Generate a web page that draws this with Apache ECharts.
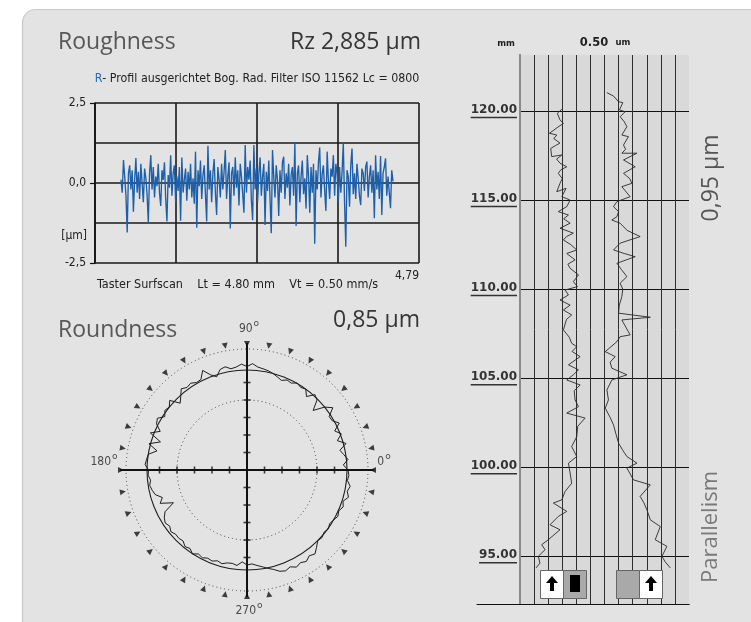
<!DOCTYPE html>
<html><head><meta charset="utf-8">
<script src="https://cdn.jsdelivr.net/npm/echarts@6/dist/echarts.min.js"></script>
<style>html,body{margin:0;padding:0;background:#fff}#c{width:751px;height:622px}</style>
</head><body><div id="c"></div>
<script>
// ---------- Roughness profile (µm), sampled evenly along the trace ----------
const roughValues = [
 0.1,-0.3,0.72,0.2,-0.4,-1.55,0.3,0.55,-0.2,0.4,
 -0.9,0.1,0.78,-0.3,0.35,-0.5,0.6,0.0,-0.6,0.45,
 0.15,-0.35,-1.24,0.3,0.87,-0.2,0.5,-0.45,0.2,-0.1,
 0.6,-0.3,-0.72,0.4,0.1,0.65,-0.5,-1.2,0.25,-0.15,
 0.87,-0.4,0.3,0.55,-0.6,0.2,-0.25,0.5,-1.18,0.8,
 -0.3,0.1,0.45,-0.55,0.35,-0.2,0.6,-0.45,0.15,-0.65,
 0.98,-1.4,0.4,-0.1,0.7,-0.5,0.25,0.55,-0.35,-1.2,
 1.16,-0.2,0.4,-0.6,0.3,0.75,-0.3,-1.0,0.5,0.1,
 -0.45,0.6,-0.2,0.35,1.03,-0.5,0.2,0.65,-1.42,0.3,
 0.5,-0.4,0.8,-0.15,0.4,-0.7,0.6,0.2,-0.35,-0.93,
 1.19,-0.3,0.5,0.1,0.7,-0.55,-1.16,1.19,-0.2,0.45,
 -0.6,0.3,0.8,-0.4,0.2,0.6,-1.31,0.35,-0.25,0.7,
 -0.5,-1.57,1.03,0.2,-0.45,0.55,0.1,-1.03,0.4,-0.3,
 0.65,0.82,-0.5,0.3,-0.15,0.6,-0.7,0.25,0.5,-0.4,
 1.26,-1.34,0.3,0.55,-0.6,0.2,0.7,-0.35,0.15,-0.8,
 0.87,0.2,-0.93,0.5,-0.3,0.6,-1.9,0.4,-0.2,0.65,
 1.11,-0.45,0.3,0.55,-0.25,-0.87,0.98,0.1,-0.5,0.45,
 0.2,0.87,-0.4,0.6,0.3,-0.58,0.5,-0.3,0.35,1.24,
 -0.6,-1.99,0.4,0.2,-0.74,0.55,1.08,-0.35,0.3,-0.5,
 0.6,0.15,-0.4,-0.69,0.45,0.3,-0.25,0.5,0.67,-0.45,
 0.2,0.55,-0.3,0.4,-1.1,0.87,-0.2,0.35,-0.5,0.84,
 -1.0,0.3,0.5,0.77,-0.4,0.2,-0.3,-0.79,0.4,0.05
];
const roughStartMm = 0.385;      // first sample position (mm)
const roughStepMm = 0.0184;      // sampling step (mm)
const roughLabelMap = {'2.5':'2,5','0':'0,0','-2.5':'-2,5'};
const roughEndLabel = '4,79';

// ---------- Roundness profile: [angle°, radius] ----------
const roundProfile = [
 [0,101],[3,96.5],[6,101.5],[9,98],[12,95],[15,102.5],[18,95],[21,101],[24,96],[27,103.5],
 [30,98.5],[33,98],[36,106],[39,100],[42,89],[45,99],[48,101.5],[51,94.5],[54,100],[57,98.5],
 [60,100.5],[63,97.5],[66,98.5],[69,96],[72,98],[75,100],[78,101.5],[81,102.5],[84,103.5],[87,106.5],
 [90,103.5],[93,106],[96,103.5],[99,102.5],[102,105.5],[105,104],[108,98],[111,102],[114,109],[117,101.5],
 [120,101],[123,103.5],[126,102],[129,104.5],[132,99],[135,94.5],[138,104],[141,100],[144,101.5],[147,98],
 [150,103.5],[153,101.5],[156,95],[159,103.5],[162,91],[165,101.5],[168,92],[171,100],[174,101],[177,102],
 [180,98.5],[183,99],[186,97],[189,98.5],[192,97],[195,95],[198,89],[201,93],[204,80.5],[207,92],
 [210,95.5],[213,97.5],[216,95.5],[219,98],[222,96],[225,96.5],[228,95.5],[231,98.5],[234,97],[237,100],
 [240,97],[243,98.5],[246,96.5],[249,97.5],[252,95.5],[255,97],[258,95],[261,94.5],[264,96],[267,92],
 [270,95],[273,94],[276,96],[279,98],[282,100.5],[285,103],[288,106.5],[291,108],[294,106],[297,109],
 [300,107],[303,109],[306,106],[309,108],[312,104],[315,100],[318,101],[321,99],[324,100.5],[327,98.5],
 [330,100],[333,102],[336,100.5],[339,103],[342,101],[345,105],[348,102.5],[351,104.5],[354,101],[357,102],
 [360,101]
];
const roundAxisMax = 127;         // radius at the end of the cross axes
const roundOuterCircle = 121;     // dotted tolerance circle
const roundFitCircle = 100;       // fitted (least squares) circle
const roundInnerCircle = 70;      // dotted inner circle
const roundTickRadii = [17.5,35,52.5,70,87.5];
const roundMarkerAngles = [0,10,20,30,40,50,60,70,80,90,100,110,120,130,140,150,160,170,
                           180,190,200,210,220,230,240,250,260,270,280,290,300,310,320,330,340,350];
const roundDegreeLabels = ['0','90','180','270'];
const roundDegreeAngles = [0,90,180,270];

// ---------- Parallelism profiles: [column, height mm] ----------
const parallelTicks = [95,100,105,110,115,120];
const leftProfile = [
 [2.97,120.1],[2.65,119.87],[2.84,119.5],[3.08,119.3],[2.7,119.1],[2.09,118.75],[2.61,118.65],[2.4,118.45],
 [2.84,118.2],[2.5,118.05],[2.18,117.9],[2.25,117.44],[2.97,117.53],[2.6,117.3],[2.84,117.07],[3.32,116.87],
 [2.9,116.7],[2.72,116.5],[3.0,116.2],[2.84,115.94],[2.61,115.47],[3.27,115.66],[2.97,115.19],[3.56,115.0],
 [3.32,114.63],[2.72,114.35],[3.44,114.16],[3.1,113.95],[3.56,113.7],[2.84,113.42],[3.79,113.14],[3.3,112.95],
 [3.08,112.76],[3.6,112.5],[4.03,112.2],[3.32,112.0],[3.91,111.64],[3.4,111.4],[3.56,111.17],[4.15,110.8],
 [3.79,110.42],[4.08,110.14],[3.2,109.95],[3.44,109.67],[2.84,109.39],[3.56,109.1],[3.08,108.83],[3.67,108.55],
 [3.3,108.3],[3.08,107.71],[3.5,107.3],[3.67,106.96],[4.03,106.77],[3.7,106.5],[4.27,106.21],[3.44,105.75],
 [4.15,105.47],[3.8,105.2],[3.32,104.9],[4.27,104.62],[3.85,104.3],[3.91,103.78],[4.15,103.4],[3.32,103.04],
 [4.62,102.76],[4.1,102.3],[4.03,101.72],[3.67,101.16],[4.03,100.6],[3.44,100.23],[3.56,99.67],[3.67,99.1],
 [3.2,98.64],[2.97,98.17],[2.37,97.99],[3.32,97.52],[2.72,97.24],[2.13,96.77],[2.84,96.49],[2.01,95.93],
 [1.54,95.65],[1.78,95.37],[1.3,95.0],[1.42,94.62],[1.14,94.35]
];
const rightProfile = [
 [6.17,121.03],[6.64,120.84],[7.0,120.52],[7.3,120.47],[7.06,120.06],[7.47,119.96],[7.11,119.68],[7.4,119.4],
 [7.59,119.12],[7.23,118.65],[7.7,118.56],[7.35,118.09],[7.5,117.85],[7.23,117.63],[8.3,117.63],[7.35,117.25],
 [8.18,116.87],[7.35,116.5],[7.8,116.2],[7.94,115.94],[7.23,115.75],[7.82,115.19],[6.88,114.91],[6.64,114.63],
 [7.0,114.35],[6.88,114.07],[6.52,113.88],[7.11,113.7],[7.6,113.3],[8.53,112.95],[7.11,112.58],[6.64,112.2],
 [7.4,112.0],[8.18,111.82],[6.88,111.45],[7.2,111.1],[7.59,110.7],[7.11,110.33],[7.3,110.0],[7.23,109.58],
 [7.05,109.1],[7.0,108.65],[9.25,108.42],[7.23,108.27],[7.82,107.43],[7.11,107.33],[6.88,107.05],[6.05,106.49],
 [6.76,106.21],[6.4,105.9],[6.52,105.56],[7.59,105.19],[6.52,104.9],[6.17,104.34],[6.28,103.78],[6.05,103.32],
 [6.4,102.8],[6.64,102.38],[6.8,101.9],[7.0,101.35],[7.3,100.95],[7.59,100.6],[8.3,100.23],[7.59,99.95],
 [8.06,99.29],[9.25,99.01],[8.53,98.36],[8.8,98.0],[9.01,97.61],[9.25,97.05],[9.96,96.67],[9.6,95.93],
 [10.43,95.56],[10.08,95.0],[10.3,94.7],[10.67,94.35]
];

// ---------- styling ----------
const NARROW = '"Liberation Sans Narrow","DejaVu Sans Condensed","Liberation Sans",sans-serif';
const HUM = '"Open Sans","Noto Sans",sans-serif';
const DJ = '"DejaVu Sans",sans-serif';
const C = [247, 470];          // roundness centre (px)
const PR = 127;                // roundness polar radius (px)
const pxPerUnit = PR / roundAxisMax;
const mmPx = 17.812;           // parallelism px per mm
const y120 = 111;              // pixel of 120 mm line
const pMin = 92.5, pMax = 122.5;

const chart = echarts.init(document.getElementById('c'), null, {renderer: 'canvas'});
const hidden = {axisLine:{show:false}, axisTick:{show:false}, axisLabel:{show:false}, splitLine:{show:false}};

const polarDefs = [PR, roundOuterCircle*pxPerUnit, roundFitCircle*pxPerUnit, roundInnerCircle*pxPerUnit];
const circleStyles = [null,
  {color:'#444', width:1, type:[1,3]},
  {color:'#1e1e1e', width:1.1, type:'solid'},
  {color:'#444', width:1, type:[1,3]}];

function arrow(cx, cy) {
  return {type:'polygon', x:cx, y:cy, z:30,
    shape:{points:[[0,-8],[6,-1],[2,-1],[2,7],[-2,7],[-2,-1],[-6,-1]]},
    style:{fill:'#000'}};
}

const option = {
  animation: false,
  backgroundColor: '#ffffff',
  grid: [
    {left:95, top:103, width:324, height:160},
    {left:520, top:55, width:169, height:549, show:true, backgroundColor:'#d9d9d9', borderWidth:0},
    {left:477, top:55, width:212, height:549},
    {left:520, top:y120 - (pMax-120)*mmPx, width:169, height:(pMax-pMin)*mmPx}
  ],
  xAxis: [
    {gridIndex:0, type:'value', min:0, max:4.8, interval:1.2,
     axisLine:{show:false}, axisTick:{show:false},
     axisLabel:{show:true, margin:7, align:'right', fontFamily:NARROW, fontSize:12, color:'#222',
       formatter: v => Math.abs(v-4.8) < 1e-6 ? roughEndLabel : ''},
     splitLine:{show:true, lineStyle:{color:'#1a1a1a', width:1.6}}},
    {gridIndex:1, type:'value', min:0, max:12, interval:1,
     axisLine:{show:false}, axisTick:{show:false}, axisLabel:{show:false},
     splitLine:{show:true, showMinLine:false, showMaxLine:false, lineStyle:{color:'#2e2e2e', width:1}}},
    {gridIndex:1, type:'value', position:'top', min:0, max:12,
     axisLine:{show:true, lineStyle:{color:'#111', width:1}}, axisTick:{show:false}, axisLabel:{show:false}, splitLine:{show:false}},
    {gridIndex:2, type:'value', min:0, max:1,
     axisLine:{show:true, lineStyle:{color:'#111', width:1}}, axisTick:{show:false}, axisLabel:{show:false}, splitLine:{show:false}},
    Object.assign({gridIndex:3, type:'value', min:0, max:12}, hidden)
  ],
  yAxis: [
    {gridIndex:0, type:'value', position:'left', min:-2.5, max:2.5, interval:1.25,
     axisLine:{show:false}, axisTick:{show:false}, axisLabel:{show:false},
     splitLine:{show:true, lineStyle:{color:'#1a1a1a', width:1.6}}},
    {gridIndex:0, type:'value', position:'left', offset:0, min:-2.5, max:2.5, interval:2.5,
     axisLine:{show:true, onZero:false, lineStyle:{color:'#111', width:1.6}},
     axisTick:{show:true, length:5, lineStyle:{color:'#111', width:1.2}},
     axisLabel:{show:true, margin:9, fontFamily:NARROW, fontSize:12, color:'#222',
       formatter: v => roughLabelMap[String(v)] || ''},
     splitLine:{show:false}},
    {gridIndex:1, type:'value', min:0, max:1, position:'left',
     axisLine:{show:true, lineStyle:{color:'#8a8a8a', width:2}}, axisTick:{show:false}, axisLabel:{show:false}, splitLine:{show:false}},
    {gridIndex:1, type:'value', min:0, max:1, position:'right',
     axisLine:{show:true, lineStyle:{color:'#8a8a8a', width:2}}, axisTick:{show:false}, axisLabel:{show:false}, splitLine:{show:false}},
    Object.assign({gridIndex:2, type:'value', min:0, max:1}, hidden),
    {gridIndex:3, type:'value', position:'left', min:pMin, max:pMax, interval:2.5,
     axisLine:{show:false}, axisTick:{show:false},
     axisLabel:{show:true, margin:3,
       formatter: v => parallelTicks.indexOf(v) >= 0 ? '{t|' + v.toFixed(2) + '}\n{u|}' : '',
       rich:{
         t:{fontFamily:DJ, fontWeight:'bold', fontSize:12, color:'#333', lineHeight:13, align:'right'},
         u:{width:'100%', height:1.5, lineHeight:3, backgroundColor:'#333'}
       }},
     splitLine:{show:true, lineStyle:{color:['rgba(0,0,0,0)', '#111'], width:1}}}
  ],
  polar: polarDefs.map(r => ({center:C, radius:r})),
  angleAxis: polarDefs.map((r, i) => ({
    polarIndex:i, type:'value', min:0, max:360, startAngle:0, clockwise:false,
    axisLine: i === 0 ? {show:false} : {show:true, lineStyle:circleStyles[i]},
    axisTick:{show:false}, axisLabel:{show:false}, splitLine:{show:false}, splitArea:{show:false}
  })),
  radiusAxis: polarDefs.map((r, i) => Object.assign({polarIndex:i, type:'value', min:0, max: i === 0 ? roundAxisMax : 1}, hidden)),
  series: [
    {type:'line', xAxisIndex:0, yAxisIndex:0, showSymbol:false, z:5,
     data: roughValues.map((v, i) => [roughStartMm + i*roughStepMm, v]),
     lineStyle:{color:'#1d5fa9', width:1.35}},
    {type:'line', xAxisIndex:4, yAxisIndex:5, showSymbol:false, z:5, data:leftProfile,
     lineStyle:{color:'#2a2a2a', width:0.9}},
    {type:'line', xAxisIndex:4, yAxisIndex:5, showSymbol:false, z:5, data:rightProfile,
     lineStyle:{color:'#2a2a2a', width:0.9}},
    {type:'line', coordinateSystem:'polar', polarIndex:0, showSymbol:false, z:6, clip:false,
     data: roundProfile.map(p => [p[1], p[0]]),
     lineStyle:{color:'#1e1e1e', width:1}},
    {type:'line', coordinateSystem:'polar', polarIndex:0, showSymbol:false, z:7,
     data:[[roundAxisMax,180],[roundAxisMax,0]], lineStyle:{color:'#111', width:2}},
    {type:'line', coordinateSystem:'polar', polarIndex:0, showSymbol:false, z:7,
     data:[[roundAxisMax,90],[roundAxisMax,270]], lineStyle:{color:'#111', width:2}},
    {type:'scatter', coordinateSystem:'polar', polarIndex:0, z:8, symbol:'rect', symbolSize:[1.6,7],
     itemStyle:{color:'#111'},
     data: roundTickRadii.map(r => [r,0]).concat(roundTickRadii.map(r => [r,180]))},
    {type:'scatter', coordinateSystem:'polar', polarIndex:0, z:8, symbol:'rect', symbolSize:[7,1.6],
     itemStyle:{color:'#111'},
     data: roundTickRadii.map(r => [r,90]).concat(roundTickRadii.map(r => [r,270]))},
    {type:'scatter', coordinateSystem:'polar', polarIndex:0, z:8, symbol:'triangle', symbolSize:6,
     itemStyle:{color:'#111'},
     data: roundMarkerAngles.map(a => ({value:[roundAxisMax - 1, a], symbolRotate: a + 90}))},
    {type:'scatter', coordinateSystem:'polar', polarIndex:0, z:8, symbolSize:0,
     data: roundDegreeAngles.map((a, i) => ({
       value:[roundAxisMax, a], name: roundDegreeLabels[i],
       label:{offset: ({0:[10,-8], 90:[2,-14], 180:[-16,-8], 270:[2,14]})[a]}
     })),
     label:{show:true, position:'inside',
       formatter: p => '{n|' + p.name + '}{d|o}',
       rich:{
         n:{fontFamily:NARROW, fontSize:12, color:'#222', lineHeight:13},
         d:{fontFamily:DJ, fontSize:9, color:'#222', padding:[0,0,10,1]}
       }}}
  ],
  graphic: [
    {type:'rect', z:-100, shape:{x:22.5, y:9.5, width:800, height:700, r:13},
     style:{fill:'#e3e3e3', stroke:'#c9c9c9', lineWidth:1.2}},
    {type:'text', x:58, y:42, style:{text:'Roughness', font:'400 23px ' + HUM, fill:'#575757', verticalAlign:'middle'}},
    {type:'text', x:421, y:42, style:{text:'Rz 2,885 µm', font:'400 23px ' + HUM, fill:'#363636', align:'right', verticalAlign:'middle'}},
    {type:'text', x:257, y:78.5, style:{
      text:'{b|R}- Profil ausgerichtet Bog. Rad. Filter ISO 11562 Lc = 0800',
      font:'12.3px ' + NARROW, fill:'#222', align:'center', verticalAlign:'middle',
      rich:{b:{fill:'#2a6ab8', font:'12.3px ' + NARROW}}}},
    {type:'text', x:97, y:285, style:{text:'Taster Surfscan    Lt = 4.80 mm    Vt = 0.50 mm/s',
      font:'12.5px ' + NARROW, fill:'#222', verticalAlign:'middle'}},
    {type:'text', x:87, y:235.5, style:{text:'[µm]', font:'12px ' + NARROW, fill:'#222', align:'right', verticalAlign:'middle'}},
    {type:'text', x:58, y:330, style:{text:'Roundness', font:'400 23px ' + HUM, fill:'#575757', verticalAlign:'middle'}},
    {type:'text', x:420, y:320, style:{text:'0,85 µm', font:'400 23px ' + HUM, fill:'#363636', align:'right', verticalAlign:'middle'}},
    {type:'text', x:506, y:44, style:{text:'mm', font:'bold 8.5px ' + DJ, fill:'#222', align:'center', verticalAlign:'middle'}},
    {type:'text', x:594, y:43, style:{text:'0.50', font:'bold 11.5px ' + DJ, fill:'#222', align:'center', verticalAlign:'middle'}},
    {type:'text', x:623, y:43, style:{text:'um', font:'bold 8.5px ' + DJ, fill:'#222', align:'center', verticalAlign:'middle'}},
    {type:'text', x:711, y:178, rotation:Math.PI/2, style:{text:'0,95 µm', font:'400 23px ' + HUM, fill:'#555',
      align:'center', verticalAlign:'middle'}},
    {type:'text', x:711, y:527, rotation:Math.PI/2, style:{text:'Parallelism', font:'400 22px ' + HUM, fill:'#7a7a7a',
      align:'center', verticalAlign:'middle'}},
    // direction / probe icons under the parallelism traces
    {type:'rect', z:20, shape:{x:540.5, y:570.5, width:23, height:28}, style:{fill:'#fff', stroke:'#666', lineWidth:1}},
    {type:'rect', z:20, shape:{x:563.5, y:570.5, width:23, height:28}, style:{fill:'#a9a9a9', stroke:'#666', lineWidth:1}},
    {type:'rect', z:21, shape:{x:570, y:575, width:10, height:17}, style:{fill:'#000'}},
    arrow(552, 584),
    {type:'rect', z:20, shape:{x:616.5, y:570.5, width:23, height:28}, style:{fill:'#a9a9a9', stroke:'#666', lineWidth:1}},
    {type:'rect', z:20, shape:{x:639.5, y:570.5, width:23, height:28}, style:{fill:'#fff', stroke:'#666', lineWidth:1}},
    arrow(651, 584)
  ]
};
chart.setOption(option);
</script>
</body></html>
